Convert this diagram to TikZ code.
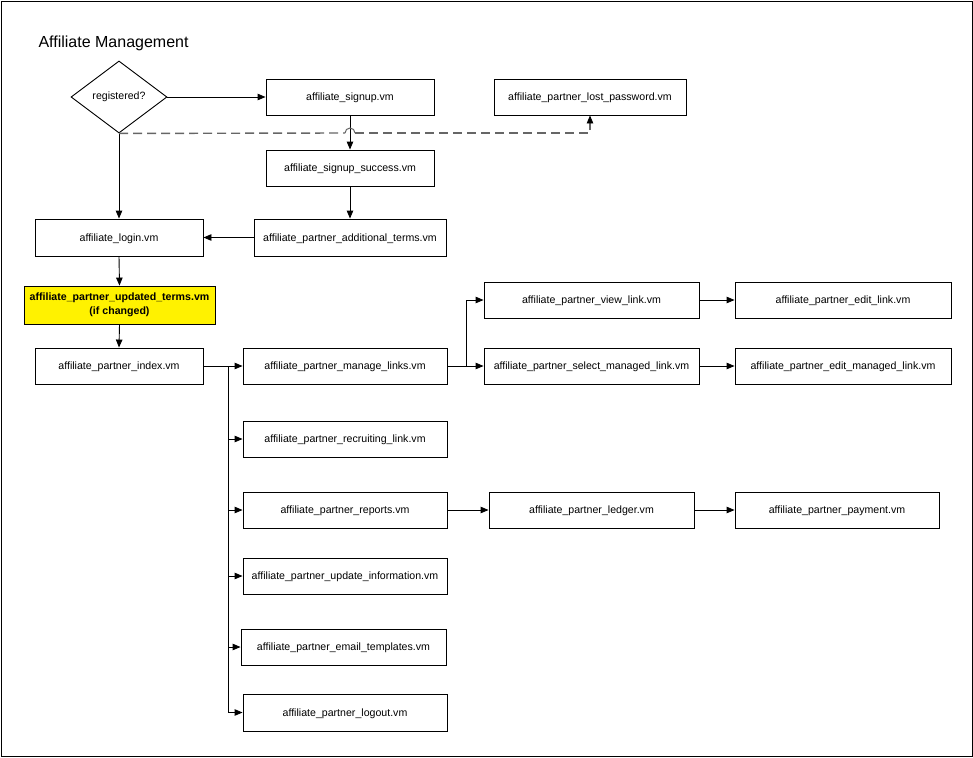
\documentclass[tikz,border=0pt]{standalone}
\usepackage{fontspec}
\setmainfont{Liberation Sans}
\usetikzlibrary{arrows.meta,shapes.geometric}
\begin{document}
\begin{tikzpicture}[x=1pt,y=-1pt,
  font=\fontsize{10.6}{13.5}\selectfont,
  pbox/.style={draw, line width=0.9pt, minimum height=36pt, inner sep=0pt, align=center, text depth=0pt},
  conn/.style={line width=0.9pt, -{Triangle[length=8pt,width=6.5pt]}},
  dashc/.style={line width=1.4pt, dash pattern=on 9pt off 5pt, black!60}]
\useasboundingbox (0,0) rectangle (973,757);
\draw[line width=0.9pt] (1,1) rectangle (972,756);
\node[anchor=west, font=\fontsize{16}{18}\selectfont] (title) at (35,43) {Affiliate Management};
\node[draw, diamond, line width=0.9pt, minimum width=96pt, minimum height=72pt, inner sep=0pt, aspect=1.33] (dia) at (119,97) {registered?};
\node[pbox, minimum width=168pt] (signup) at (350,97) {affiliate\_signup.vm};
\node[pbox, minimum width=192pt] (lost) at (590,97) {affiliate\_partner\_lost\_password.vm};
\node[pbox, minimum width=168pt] (success) at (350,168) {affiliate\_signup\_success.vm};
\node[pbox, minimum width=192pt, minimum height=37pt] (addl) at (350,237.5) {affiliate\_partner\_additional\_terms.vm};
\node[pbox, minimum width=168pt, minimum height=37pt] (login) at (119,237.5) {affiliate\_login.vm};
\node[pbox, minimum width=191pt, minimum height=38pt, fill=yellow, text depth=2pt, font=\fontsize{10.6}{14}\selectfont\bfseries] (upd) at (119.5,305) {affiliate\_partner\_updated\_terms.vm\\(if changed)};
\node[pbox, minimum width=168pt] (index) at (119,366) {affiliate\_partner\_index.vm};
\node[pbox, minimum width=204pt] (manage) at (345,366) {affiliate\_partner\_manage\_links.vm};
\node[pbox, minimum width=215pt] (view) at (591.5,300) {affiliate\_partner\_view\_link.vm};
\node[pbox, minimum width=216pt] (edit) at (843,300) {affiliate\_partner\_edit\_link.vm};
\node[pbox, minimum width=215pt] (select) at (591.5,366) {affiliate\_partner\_select\_managed\_link.vm};
\node[pbox, minimum width=216pt] (editm) at (843,366) {affiliate\_partner\_edit\_managed\_link.vm};
\node[pbox, minimum width=204pt] (recruit) at (345,439) {affiliate\_partner\_recruiting\_link.vm};
\node[pbox, minimum width=204pt] (reports) at (345,510) {affiliate\_partner\_reports.vm};
\node[pbox, minimum width=205pt] (ledger) at (591.5,510) {affiliate\_partner\_ledger.vm};
\node[pbox, minimum width=204pt] (payment) at (837,510) {affiliate\_partner\_payment.vm};
\node[pbox, minimum width=204pt] (updinfo) at (345,576) {affiliate\_partner\_update\_information.vm};
\node[pbox, minimum width=205pt] (email) at (343.5,647) {affiliate\_partner\_email\_templates.vm};
\node[pbox, minimum width=204pt, minimum height=37pt] (logout) at (345,712.5) {affiliate\_partner\_logout.vm};
% connectors
\draw[conn] (dia.east) -- (signup.west);
\draw[conn] (dia.south) -- (login.north);
\draw[conn] (signup.south) -- (success.north);
\draw[conn] (success.south) -- (addl.north);
\draw[conn] (addl.west) -- (login.east);
\draw[conn] (login.south) -- (upd.north);
\draw[conn] (upd.south) -- (index.north);
% dashed with hop
\coordinate (hopL) at (345,133);
\coordinate (hopR) at (355,133);
\draw[dashc] (dia.south) -- (hopL);
\draw[line width=1pt, black!60] (hopL) arc[start angle=180, end angle=0, radius=5pt];
\draw[dashc, -{Triangle[length=8pt,width=6.5pt,color=black,line width=0.9pt]}] (hopR) -| (lost.south);
% index bus
\coordinate (bus) at (228,366);
\draw[conn] (index.east) -- (manage.west);
\draw[conn] (bus) |- (recruit.west);
\draw[conn] (bus) |- (reports.west);
\draw[conn] (bus) |- (updinfo.west);
\draw[conn] (bus) |- (email.west);
\draw[conn] (bus) |- (logout.west);
% manage links bus
\coordinate (mbus) at (466,366);
\draw[conn] (manage.east) -- (select.west);
\draw[conn] (mbus) |- (view.west);
\draw[conn] (view.east) -- (edit.west);
\draw[conn] (select.east) -- (editm.west);
\draw[conn] (reports.east) -- (ledger.west);
\draw[conn] (ledger.east) -- (payment.west);
\end{tikzpicture}
\end{document}
